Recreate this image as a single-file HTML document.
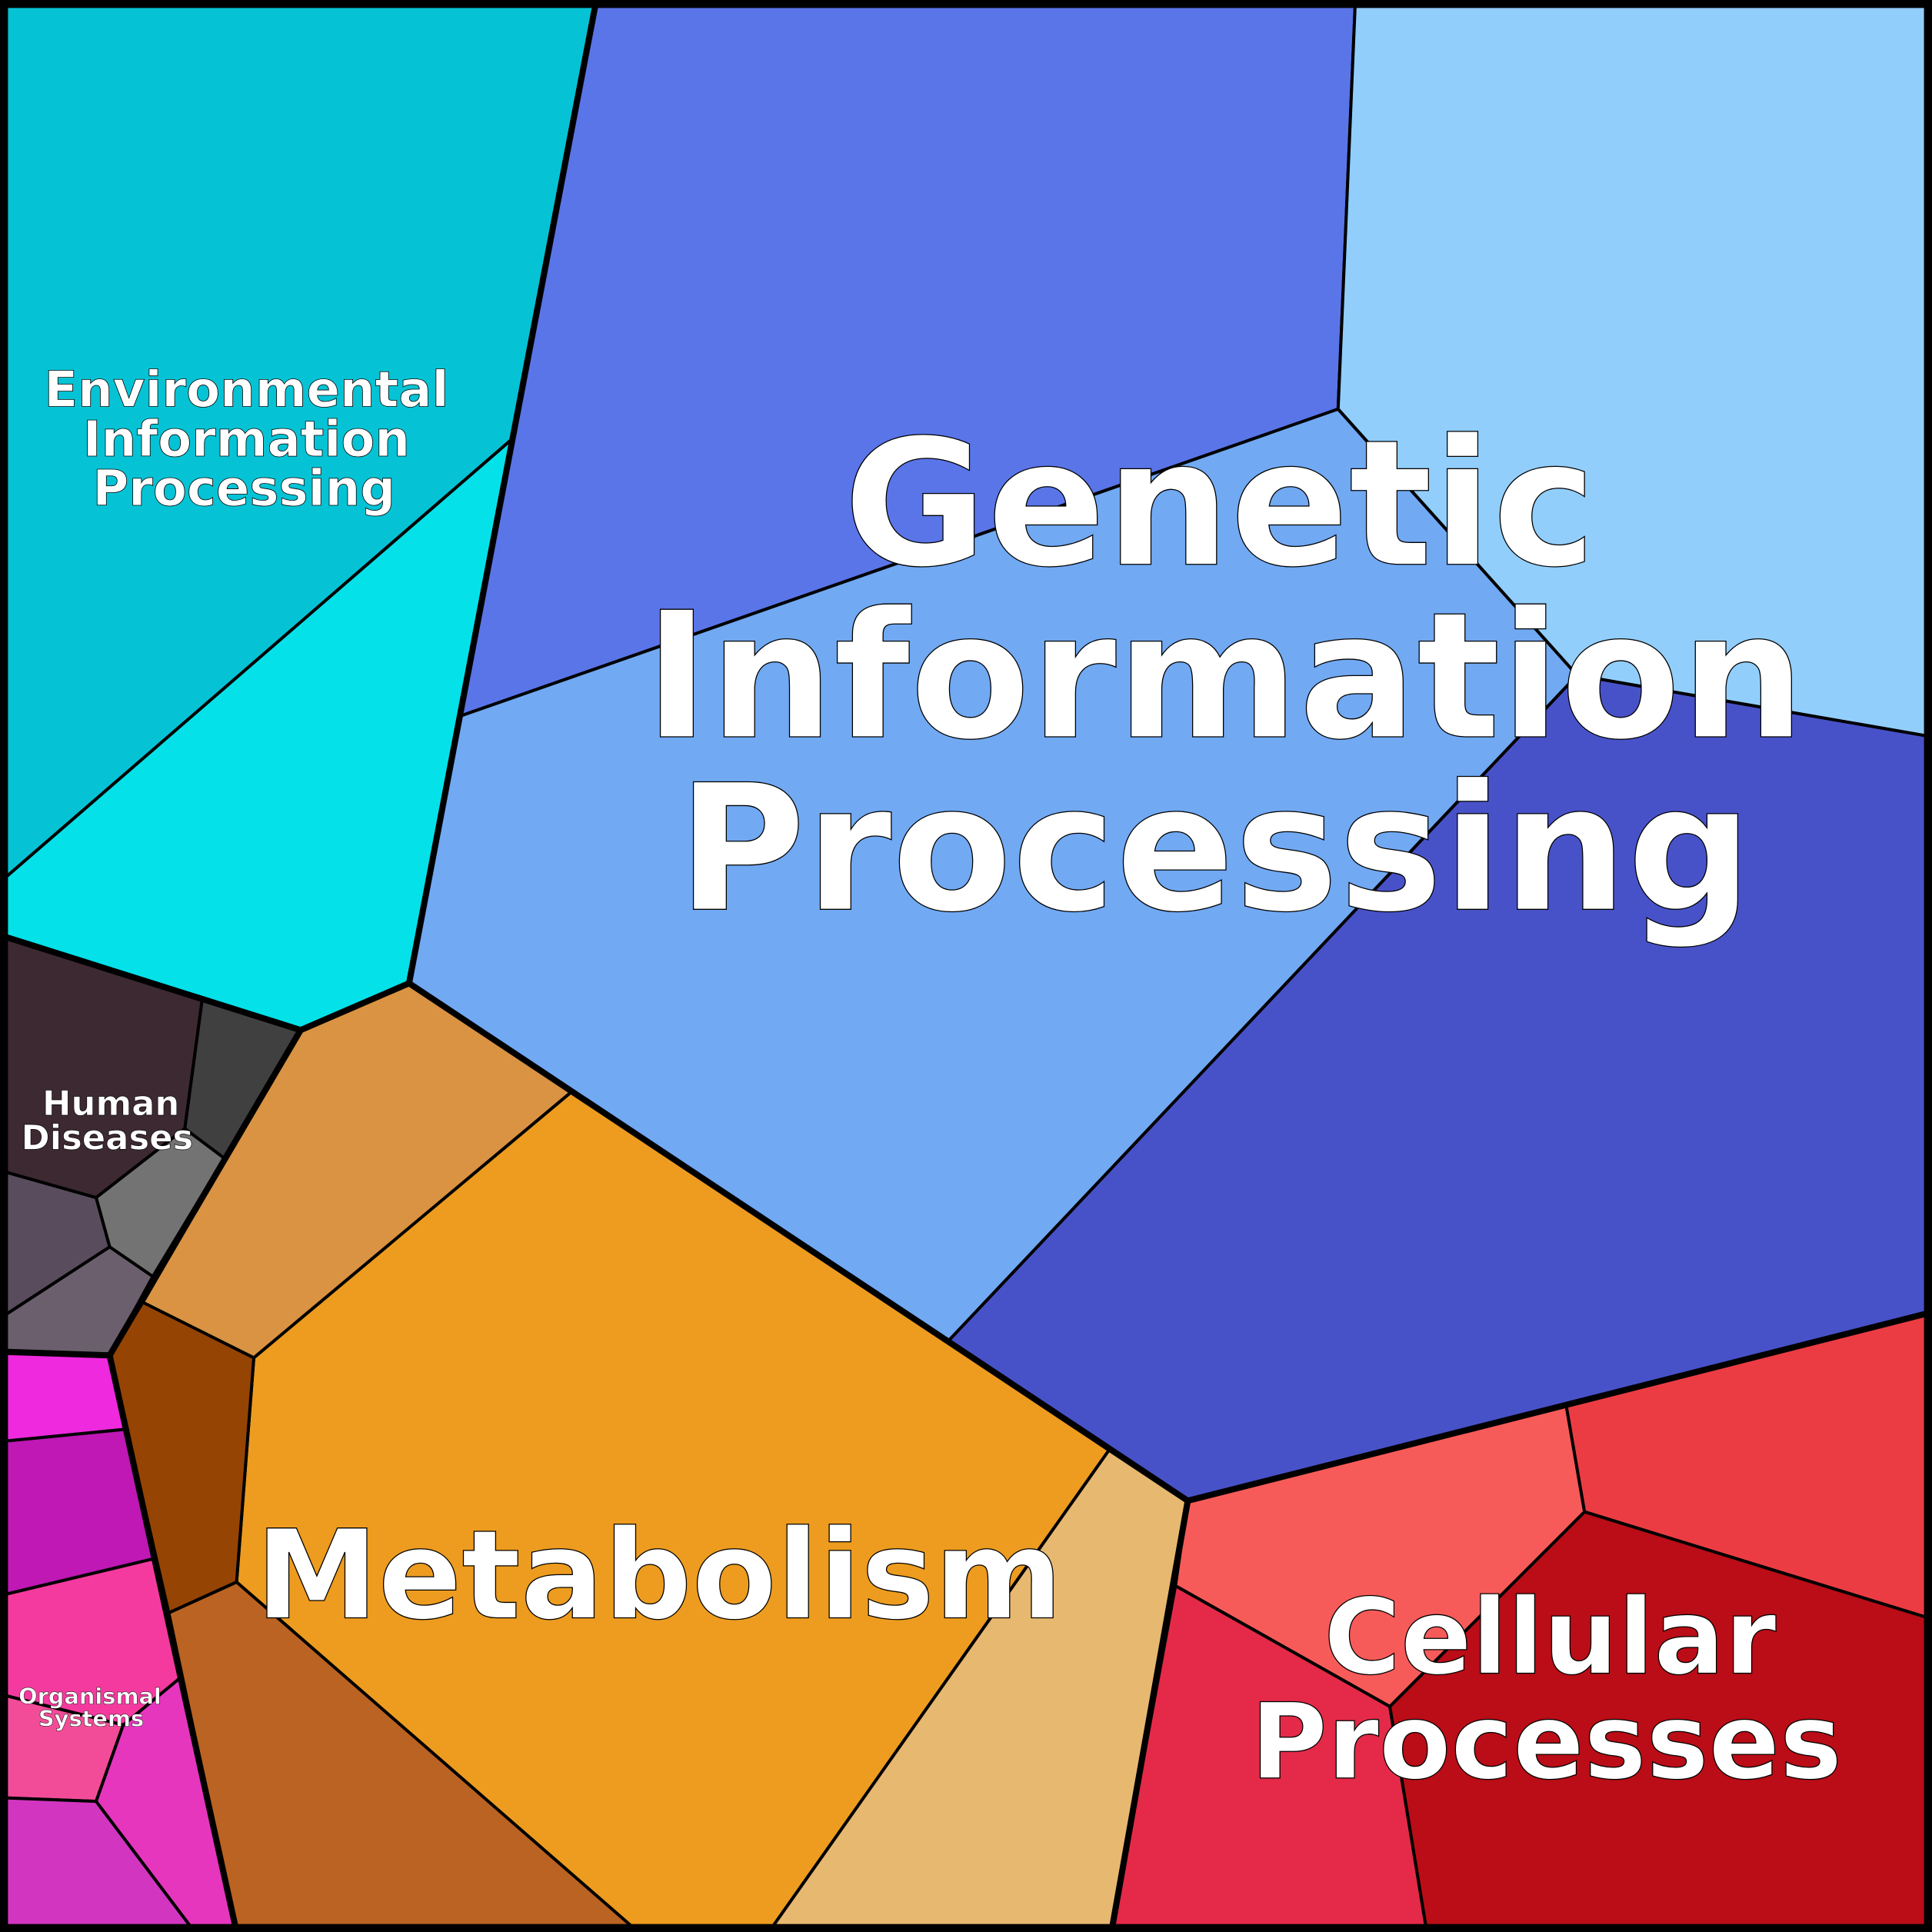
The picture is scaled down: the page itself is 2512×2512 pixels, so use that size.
<!DOCTYPE html>
<html><head><meta charset="utf-8"><style>html,body{margin:0;padding:0;background:#fff}svg{display:block}</style></head>
<body>
<svg xmlns="http://www.w3.org/2000/svg" width="2512" height="2512" viewBox="0 0 1568 1568">
<g stroke="#000" stroke-width="2.5" stroke-linejoin="round">
<polygon fill="#05C3D5" points="0,0 484,0 416,356 0,716"/>
<polygon fill="#05E1E9" points="0,716 416,356 332,798 244,836 164,812 0,759"/>
<polygon fill="#5A75E8" points="484,0 1100,0 1086,332 374,581 416,356"/>
<polygon fill="#71A9F3" points="374,581 1086,332 1280,548 770,1088 332,798"/>
<polygon fill="#92CEFC" points="1100,0 1568,0 1568,598 1280,548 1086,332"/>
<polygon fill="#4852C8" points="1280,548 1568,598 1568,1065 964,1218 770,1088"/>
<polygon fill="#DA9342" points="332,798 464,886 206,1102 116,1057 244,836"/>
<polygon fill="#ED9C1F" points="464,886 900,1177 624,1568 518,1568 192,1284 206,1102"/>
<polygon fill="#954404" points="116,1057 206,1102 192,1284 137,1309 89,1100"/>
<polygon fill="#BB6322" points="137,1309 192,1284 518,1568 192,1568"/>
<polygon fill="#E7B870" points="900,1177 964,1218 902,1568 624,1568"/>
<polygon fill="#F75B59" points="964,1218 1271,1140 1286,1227 1128,1385 954,1287"/>
<polygon fill="#EC3C43" points="1271,1140 1568,1065 1568,1314 1286,1227"/>
<polygon fill="#E42A48" points="954,1287 1128,1385 1158,1568 902,1568"/>
<polygon fill="#BA0D17" points="1128,1385 1286,1227 1568,1314 1568,1568 1158,1568"/>
<polygon fill="#3D2932" points="0,759 164,812 150,916 78,972 0,950"/>
<polygon fill="#404040" points="164,812 244,836 182,940 150,916"/>
<polygon fill="#737373" points="150,916 182,940 124,1036 89,1012 78,972"/>
<polygon fill="#594D5D" points="0,950 78,972 89,1012 0,1070"/>
<polygon fill="#6B5F6E" points="0,1070 89,1012 124,1036 89,1100 0,1097"/>
<polygon fill="#EF29DE" points="0,1097 89,1100 102,1160 0,1170"/>
<polygon fill="#BF18B5" points="0,1170 102,1160 125,1265 0,1295"/>
<polygon fill="#F53A9F" points="0,1295 125,1265 146,1362 100,1400 0,1375"/>
<polygon fill="#F24C98" points="0,1375 100,1400 78,1462 0,1459"/>
<polygon fill="#E636BE" points="100,1400 146,1362 192,1568 158,1568 78,1462"/>
<polygon fill="#D236C0" points="0,1459 78,1462 158,1568 0,1568"/>
</g>
<g fill="none" stroke="#000" stroke-width="5" stroke-linejoin="round">
<polyline points="0,759 244,836 332,798 416,356 484,0"/>
<polyline points="244,836 89,1100 0,1097"/>
<polyline points="89,1100 192,1568"/>
<polyline points="332,798 964,1218 902,1568"/>
<polyline points="964,1218 1568,1065"/>
<rect x="3" y="3" width="1562" height="1562" stroke-width="7"/>
</g>
<g font-family="'DejaVu Sans','Liberation Sans',sans-serif" font-weight="bold" fill="#fff" stroke="#000" stroke-width="0.8" text-anchor="middle">
<text x="990" y="458" font-size="142">Genetic</text>
<text x="994" y="598" font-size="142">Information</text>
<text x="986" y="738" font-size="142">Processing</text>
<text x="535" y="1313" font-size="100">Metabolism</text>
<text x="1258" y="1358" font-size="85">Cellular</text>
<text x="1255" y="1443" font-size="85">Processes</text>
<text x="200" y="330" font-size="40" stroke-width="0.5">Environmental</text>
<text x="200" y="370" font-size="40" stroke-width="0.5">Information</text>
<text x="198" y="410" font-size="40" stroke-width="0.5">Processing</text>
<text x="90" y="905" font-size="28" stroke-width="0.4">Human</text>
<text x="87" y="933" font-size="28" stroke-width="0.4">Diseases</text>
<text x="73" y="1383" font-size="18" stroke-width="0.3">Organismal</text>
<text x="74" y="1401" font-size="18" stroke-width="0.3">Systems</text>
</g>
</svg>
</body></html>
